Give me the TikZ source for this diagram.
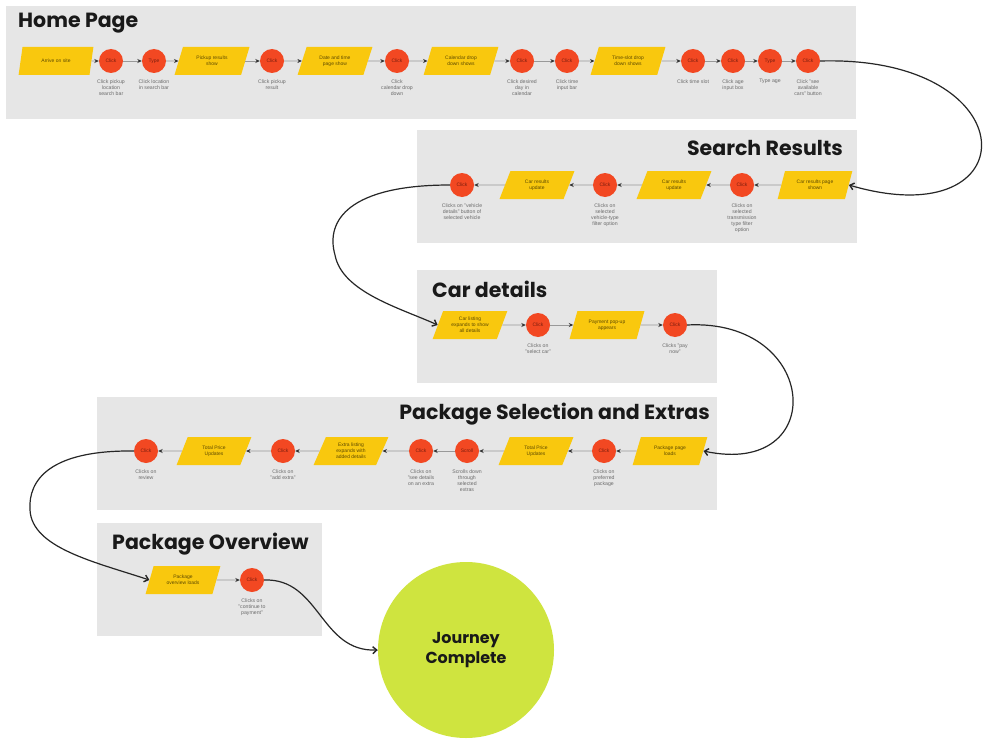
\documentclass[tikz,border=0pt]{standalone}
\usepackage{fontspec}
\setmainfont{Liberation Sans}
\newfontfamily\titlefont{Poppins}
\usetikzlibrary{shapes.geometric,arrows.meta,calc}
\definecolor{panel}{HTML}{E6E6E6}
\definecolor{cred}{HTML}{F24822}
\definecolor{cyel}{HTML}{F9C80E}
\definecolor{lime}{HTML}{CFE43F}
\definecolor{lblgray}{HTML}{6B6B6B}
\definecolor{redtxt}{HTML}{7A1E0E}
\definecolor{yeltxt}{HTML}{5E4A00}
\tikzset{
 ttl/.style={font=\titlefont\bfseries\fontsize{20.6}{24}\selectfont, text=black!90, inner sep=0},
 act/.style={circle, fill=cred, minimum size=24bp, inner sep=0, font=\fontsize{5}{6}\selectfont, text=redtxt},
 scr/.style={trapezium, trapezium left angle=65, trapezium right angle=115, trapezium stretches=true, minimum width=75bp, minimum height=28bp, fill=cyel, inner sep=0, align=center, font=\fontsize{5}{6}\selectfont, text=yeltxt},
 lbl/.style={align=center, font=\fontsize{5.2}{6.2}\selectfont, text=lblgray, inner sep=0, anchor=north},
 flow/.style={draw=gray!80, line width=0.9bp, -{Stealth[length=4.5bp,width=4bp,black!80]}},
 jump/.style={draw=black!85, line width=1.2bp, -{Straight Barb[length=4bp,width=7bp,line width=1.4bp]}},
}
\begin{document}
\begin{tikzpicture}[x=1bp,y=-1bp]
\useasboundingbox[fill=white] (0,0) rectangle (987,748);
% panels
\fill[panel] (6,6) rectangle (856,119);
\fill[panel] (417,130) rectangle (857,243);
\fill[panel] (417,270) rectangle (717,383);
\fill[panel] (97,397) rectangle (717,510);
\fill[panel] (97,523) rectangle (322,636);
% titles
\node[ttl, anchor=base west] (t1) at (18,28) {Home Page};
\node[ttl, anchor=base east] (t2) at (843,155) {Search Results};
\node[ttl, anchor=base west] (t3) at (432,297) {Car details};
\node[ttl, anchor=base east] (t4) at (710,419) {Package Selection and Extras};
\node[ttl, anchor=base west] (t5) at (112,549) {Package Overview};
% Home row
\node[scr] (a1) at (56,61) {Arrive on site};
\node[act] (a2) at (111,61) {Click};
\node[act] (a3) at (154,61) {Type};
\node[scr] (a4) at (212,61) {Pickup results\\show};
\node[act] (a5) at (272,61) {Click};
\node[scr] (a6) at (335,61) {Date and time\\page show};
\node[act] (a7) at (397,61) {Click};
\node[scr] (a8) at (461,61) {Calendar drop\\down shows};
\node[act] (a9) at (522,61) {Click};
\node[act] (a10) at (567,61) {Click};
\node[scr] (a11) at (628,61) {Time-slot drop\\down shows};
\node[act] (a12) at (693,61) {Click};
\node[act] (a13) at (733,61) {Click};
\node[act] (a14) at (770,61) {Type};
\node[act] (a15) at (808,61) {Click};
\foreach \u/\v in {a1/a2,a2/a3,a3/a4,a4/a5,a5/a6,a6/a7,a7/a8,a8/a9,a9/a10,a10/a11,a11/a12,a12/a13,a13/a14,a14/a15}
  \draw[flow] (\u) -- (\v);
\path (a2.south) ++(0,6) node[lbl] (la2) {Click pickup\\location\\search bar};
\path (a3.south) ++(0,6) node[lbl] (la3) {Click location\\in search bar};
\path (a5.south) ++(0,6) node[lbl] (la5) {Click pickup\\result};
\path (a7.south) ++(0,6) node[lbl] (la7) {Click\\calendar drop\\down};
\path (a9.south) ++(0,6) node[lbl] (la9) {Click desired\\day in\\calendar};
\path (a10.south) ++(0,6) node[lbl] (la10) {Click time\\input bar};
\path (a12.south) ++(0,6) node[lbl] (la12) {Click time slot};
\path (a13.south) ++(0,6) node[lbl] (la13) {Click age\\input box};
\path (a14.south) ++(0,6) node[lbl] (la14) {Type age};
\path (a15.south) ++(0,6) node[lbl] (la15) {Click "see\\available\\cars" button};
% Search results row
\node[scr] (b1) at (815,185) {Car results page\\shown};
\node[act] (b2) at (742,185) {Click};
\node[scr] (b3) at (674,185) {Car results\\update};
\node[act] (b4) at (605,185) {Click};
\node[scr] (b5) at (537,185) {Car results\\update};
\node[act] (b6) at (462,185) {Click};
\foreach \u/\v in {b1/b2,b2/b3,b3/b4,b4/b5,b5/b6}
  \draw[flow] (\u) -- (\v);
\path (b2.south) ++(0,6) node[lbl] (lb2) {Clicks on\\selected\\transmission\\type filter\\option};
\path (b4.south) ++(0,6) node[lbl] (lb4) {Clicks on\\selected\\vehicle-type\\filter option};
\path (b6.south) ++(0,6) node[lbl] (lb6) {Clicks on "vehicle\\details" button of\\selected vehicle};
% Car details row
\node[scr] (c1) at (470,325) {Car listing\\expands to show\\all details};
\node[act] (c2) at (538,325) {Click};
\node[scr] (c3) at (607,325) {Payment pop-up\\appears};
\node[act] (c4) at (675,325) {Click};
\foreach \u/\v in {c1/c2,c2/c3,c3/c4}
  \draw[flow] (\u) -- (\v);
\path (c2.south) ++(0,6) node[lbl] (lc2) {Clicks on\\"select car"};
\path (c4.south) ++(0,6) node[lbl] (lc4) {Clicks "pay\\now"};
% Package selection row
\node[scr] (d1) at (670,451) {Package page\\loads};
\node[act] (d2) at (604,451) {Click};
\node[scr] (d3) at (536,451) {Total Price\\Updates};
\node[act] (d4) at (467,451) {Scroll};
\node[act] (d5) at (421,451) {Click};
\node[scr] (d6) at (351,451) {Extra listing\\expands with\\added details};
\node[act] (d7) at (283,451) {Click};
\node[scr] (d8) at (214,451) {Total Price\\Updates};
\node[act] (d9) at (146,451) {Click};
\foreach \u/\v in {d1/d2,d2/d3,d3/d4,d4/d5,d5/d6,d6/d7,d7/d8,d8/d9}
  \draw[flow] (\u) -- (\v);
\path (d2.south) ++(0,6) node[lbl] (ld2) {Clicks on\\preferred\\package};
\path (d4.south) ++(0,6) node[lbl] (ld4) {Scrolls down\\through\\selected\\extras};
\path (d5.south) ++(0,6) node[lbl] (ld5) {Clicks on\\"see details\\on an extra};
\path (d7.south) ++(0,6) node[lbl] (ld7) {Clicks on\\"add extra"};
\path (d9.south) ++(0,6) node[lbl] (ld9) {Clicks on\\review};
% Package overview row
\node[scr] (e1) at (183,580) {Package\\overview loads};
\node[act] (e2) at (252,580) {Click};
\draw[flow] (e1) -- (e2);
\path (e2.south) ++(0,6) node[lbl] (le2) {Clicks on\\"continue to\\payment"};
% Journey complete
\node[circle, fill=lime, minimum size=176bp, inner sep=0, align=center, font=\titlefont\bfseries\fontsize{16}{21}\selectfont, text=black!90] (j) at (466,650) {Journey\\Complete};
% jumps between sections
\draw[jump] (a15.east) .. controls (1030,55) and (1030,238) .. (b1.east);
\draw[jump] (b6.west) .. controls (350,185) and (325,220) .. (335,255) .. controls (342,292) and (400,308) .. (c1.west);
\draw[jump] (c4.east) .. controls (820,318) and (830,478) .. (d1.east);
\draw[jump] (d9.west) .. controls (50,450) and (28,480) .. (30,510) .. controls (32,548) and (95,562) .. (e1.west);
\draw[jump] (e2.east) .. controls (320,578) and (320,652) .. (j.west);
\end{tikzpicture}
\end{document}
